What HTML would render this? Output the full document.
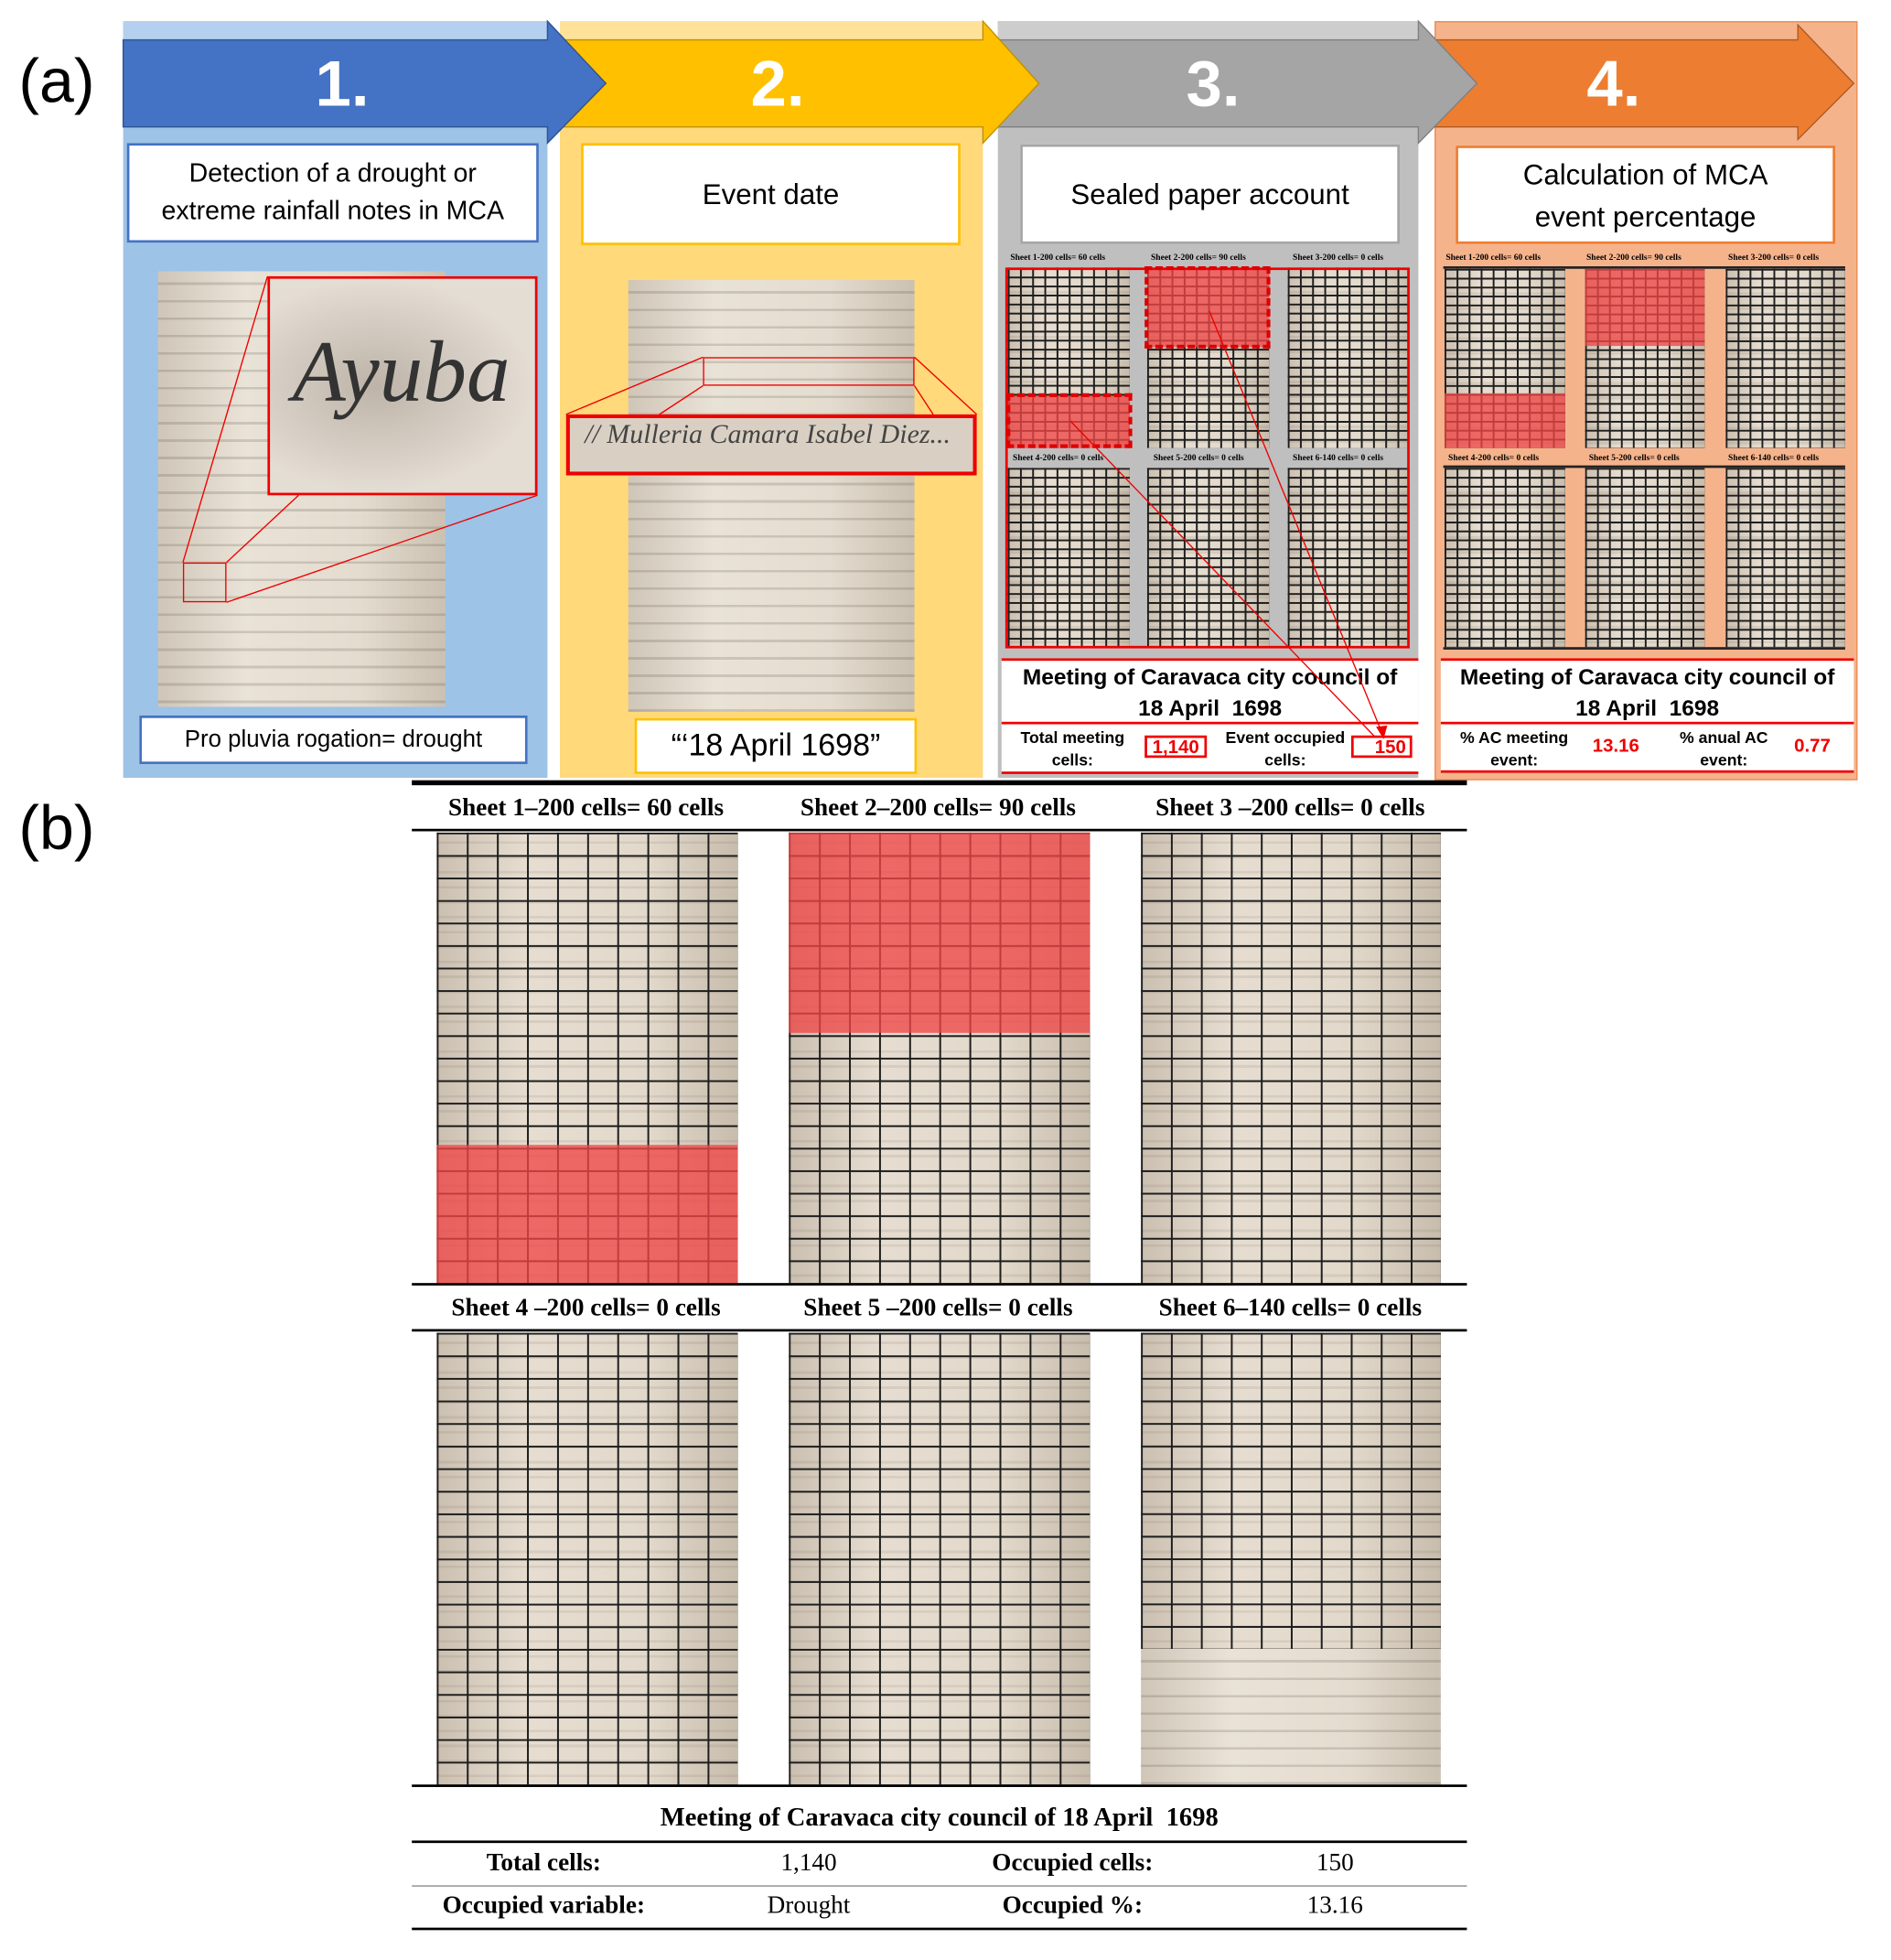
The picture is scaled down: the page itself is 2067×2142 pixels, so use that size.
<!DOCTYPE html>
<html><head><meta charset="utf-8"><style>
html,body{margin:0;padding:0;background:#fff;width:2067px;height:2142px;overflow:hidden}
#w{position:absolute;left:0;top:0;width:1520px;height:1575px;transform:scale(1.36);transform-origin:0 0;font-family:"Liberation Sans",sans-serif}
.a{position:absolute}
.box{position:absolute;background:#fff;display:flex;align-items:center;justify-content:center;text-align:center;box-sizing:border-box}
.doc{position:absolute;background:repeating-linear-gradient(to bottom,rgba(0,0,0,0) 0 9px,rgba(70,60,50,.18) 9px 11px,rgba(0,0,0,0) 11px 14px),linear-gradient(90deg,#cfc6b8,#e9e2d6 30%,#e4dccf 70%,#cbc1b2)}
.sh{position:absolute;background-image:linear-gradient(to right,#1e1e1e 1.4px,transparent 1.4px),linear-gradient(to bottom,#1e1e1e 1.4px,transparent 1.4px),repeating-linear-gradient(to bottom,rgba(0,0,0,0) 0 7px,rgba(80,70,60,.1) 7px 9px,rgba(0,0,0,0) 9px 12px),linear-gradient(90deg,#cbbfb0,#e6ddd0 30%,#e2d9cb 70%,#c8bcac);background-size:10% 5%,10% 5%,100% 100%,100% 100%}
.red{position:absolute;left:0;right:0;background:rgba(240,70,70,.78)}
.lbl{position:absolute;font-family:"Liberation Serif",serif;font-weight:bold;font-size:20px;text-align:center;white-space:nowrap}
.tl{position:absolute;font-family:"Liberation Serif",serif;font-weight:bold;font-size:7px;white-space:nowrap}
.num{position:absolute;color:#fff;font-weight:bold;font-size:52px;text-align:center}
.hl{position:absolute;left:331px;width:848px;background:#000}
.tc{position:absolute;font-family:"Liberation Serif",serif;font-size:20px;text-align:center;transform:translateX(-50%);white-space:nowrap}
</style></head><body><div id="w">

<div class="a" style="left:15px;top:36px;font-size:50px">(a)</div>
<div class="a" style="left:15px;top:636px;font-size:50px">(b)</div>

<!-- panel backgrounds -->
<div class="a" style="left:99px;top:17px;width:341px;height:608px;background:#9dc3e6"></div>
<div class="a" style="left:99px;top:17px;width:341px;height:15px;background:#b4d0ee"></div>
<div class="a" style="left:450px;top:17px;width:340px;height:608px;background:#ffd97a"></div>
<div class="a" style="left:450px;top:17px;width:340px;height:15px;background:#ffe29a"></div>
<div class="a" style="left:802px;top:17px;width:338px;height:608px;background:#bfbfbf"></div>
<div class="a" style="left:802px;top:17px;width:338px;height:15px;background:#cdcdcd"></div>
<div class="a" style="left:1153px;top:17px;width:340px;height:610px;background:#f5b38c;border:1px solid #ee8a50;box-sizing:border-box"></div>

<!-- arrows (drawn right-to-left so heads overlap next panel) -->
<svg class="a" style="left:0;top:0" width="1520" height="130">
<polygon points="1153,32 1445,32 1445,20 1490,67 1445,112 1445,102 1153,102" fill="#ed7d31" stroke="#ae5a21"/>
<polygon points="802,32 1140,32 1140,17 1187,67 1140,115 1140,102 802,102" fill="#a5a5a5" stroke="#7f7f7f"/>
<polygon points="450,32 790,32 790,17 835,67 790,115 790,102 450,102" fill="#ffc000" stroke="#c09000"/>
<polygon points="99,32 440,32 440,17 487,67 440,115 440,102 99,102" fill="#4472c4" stroke="#2f528f"/>
</svg>
<div class="num" style="left:200px;top:38px;width:150px">1.</div>
<div class="num" style="left:550px;top:38px;width:150px">2.</div>
<div class="num" style="left:900px;top:38px;width:150px">3.</div>
<div class="num" style="left:1222px;top:38px;width:150px">4.</div>

<!-- title boxes -->
<div class="box" style="left:102px;top:115px;width:331px;height:80px;border:2px solid #4472c4;font-size:21px;line-height:30px">Detection of a drought or<br>extreme rainfall notes in MCA</div>
<div class="box" style="left:467px;top:115px;width:305px;height:82px;border:2px solid #ffc000;font-size:23px">Event date</div>
<div class="box" style="left:820px;top:116px;width:305px;height:80px;border:2px solid #a5a5a5;font-size:23px">Sealed paper account</div>
<div class="box" style="left:1170px;top:117px;width:305px;height:79px;border:2px solid #ed7d31;font-size:23px;line-height:34px">Calculation of MCA<br>event percentage</div>

<!-- panel 1 doc -->
<div class="doc" style="left:127px;top:218px;width:231px;height:350px"></div>
<div class="a" style="left:215px;top:222px;width:217px;height:176px;border:2px solid #e00;box-sizing:border-box;background:radial-gradient(ellipse at 40% 50%,#bdb3a8,#e4ddd4 70%)"></div>
<div class="a" style="left:235px;top:260px;font-family:'Liberation Serif',serif;font-style:italic;font-size:70px;color:#333">Ayuba</div>
<div class="a" style="left:147px;top:452px;width:35px;height:32px;border:1px solid #e00;box-sizing:border-box"></div>
<svg class="a" style="left:0;top:0" width="500" height="600"><line x1="147" y1="452" x2="215" y2="222" stroke="#e00"/><line x1="182" y1="484" x2="432" y2="398" stroke="#e00"/><line x1="182" y1="452" x2="240" y2="398" stroke="#e00"/></svg>
<div class="box" style="left:112px;top:575px;width:312px;height:39px;border:2px solid #4472c4;font-size:19px">Pro pluvia rogation= drought</div>

<!-- panel 2 doc -->
<div class="doc" style="left:505px;top:225px;width:230px;height:347px"></div>
<div class="a" style="left:565px;top:287px;width:170px;height:23px;border:1px solid #e00;box-sizing:border-box"></div>
<div class="a" style="left:455px;top:333px;width:330px;height:49px;border:3px solid #e00;box-sizing:border-box;background:#d9d0c3"></div>
<div class="a" style="left:470px;top:336px;font-family:'Liberation Serif',serif;font-style:italic;font-size:22px;color:#444">// Mulleria Camara Isabel Diez...</div>
<svg class="a" style="left:0;top:0" width="800" height="400"><line x1="565" y1="287" x2="455" y2="333" stroke="#e00"/><line x1="735" y1="287" x2="785" y2="333" stroke="#e00"/><line x1="565" y1="310" x2="530" y2="333" stroke="#e00"/><line x1="735" y1="310" x2="750" y2="333" stroke="#e00"/></svg>
<div class="box" style="left:510px;top:577px;width:227px;height:45px;border:2px solid #ffc000;font-size:25px">“‘18 April 1698”</div>

<!-- panel 3 sheets -->
<div class="tl" style="left:812px;top:203px">Sheet 1-200 cells= 60 cells</div>
<div class="tl" style="left:925px;top:203px">Sheet 2-200 cells= 90 cells</div>
<div class="tl" style="left:1039px;top:203px">Sheet 3-200 cells= 0 cells</div>
<div class="tl" style="left:814px;top:364px">Sheet 4-200 cells= 0 cells</div>
<div class="tl" style="left:927px;top:364px">Sheet 5-200 cells= 0 cells</div>
<div class="tl" style="left:1039px;top:364px">Sheet 6-140 cells= 0 cells</div>
<div class="sh" style="left:810px;top:215px;width:98px;height:145px"><div class="red" style="top:103px;bottom:0"></div></div>
<div class="sh" style="left:922px;top:215px;width:98px;height:145px"><div class="red" style="top:0;height:64px"></div></div>
<div class="sh" style="left:1035px;top:215px;width:98px;height:145px"></div>
<div class="sh" style="left:810px;top:376px;width:98px;height:144px"></div>
<div class="sh" style="left:922px;top:376px;width:98px;height:144px"></div>
<div class="sh" style="left:1035px;top:376px;width:98px;height:144px"></div>
<div class="a" style="left:808px;top:215px;width:325px;height:306px;border:2px solid #e00;box-sizing:border-box"></div>
<div class="a" style="left:809px;top:316px;width:101px;height:44px;border:3px dashed #d00;box-sizing:border-box"></div>
<div class="a" style="left:920px;top:214px;width:101px;height:66px;border:3px dashed #d00;box-sizing:border-box"></div>
<div class="a" style="left:805px;top:530px;width:335px;height:92px;background:#fff"></div>
<div class="a" style="left:805px;top:529px;width:335px;height:2px;background:#e00"></div>
<div class="a" style="left:805px;top:580px;width:335px;height:2px;background:#e00"></div>
<div class="a" style="left:805px;top:620px;width:335px;height:2px;background:#e00"></div>
<div class="a" style="left:805px;top:532px;width:335px;text-align:center;font-weight:bold;font-size:18px;line-height:25px">Meeting of Caravaca city council of<br>18 April&nbsp; 1698</div>
<div class="a" style="left:808px;top:584px;width:108px;text-align:center;font-weight:bold;font-size:13px;line-height:18px">Total meeting<br>cells:</div>
<div class="a" style="left:920px;top:591px;width:50px;height:18px;border:2px solid #e00;box-sizing:border-box;color:#e00;font-weight:bold;font-size:15px;text-align:center;line-height:15px">1,140</div>
<div class="a" style="left:978px;top:584px;width:110px;text-align:center;font-weight:bold;font-size:13px;line-height:18px">Event occupied<br>cells:</div>
<div class="a" style="left:1086px;top:591px;width:49px;height:18px;border:2px solid #e00;box-sizing:border-box;color:#e00;font-weight:bold;font-size:15px;text-align:right;padding-right:3px;line-height:15px">150</div>
<svg class="a" style="left:0;top:0" width="1200" height="630"><line x1="860" y1="338" x2="1105" y2="592" stroke="#e00"/><line x1="972" y1="250" x2="1112" y2="592" stroke="#e00"/><polygon points="1112,594 1106,584 1115,583" fill="#e00"/></svg>

<!-- panel 4 sheets -->
<div class="tl" style="left:1162px;top:203px">Sheet 1-200 cells= 60 cells</div>
<div class="tl" style="left:1275px;top:203px">Sheet 2-200 cells= 90 cells</div>
<div class="tl" style="left:1389px;top:203px">Sheet 3-200 cells= 0 cells</div>
<div class="tl" style="left:1164px;top:364px">Sheet 4-200 cells= 0 cells</div>
<div class="tl" style="left:1277px;top:364px">Sheet 5-200 cells= 0 cells</div>
<div class="tl" style="left:1389px;top:364px">Sheet 6-140 cells= 0 cells</div>
<div class="a" style="left:1160px;top:214px;width:323px;height:2px;background:#222"></div>
<div class="a" style="left:1160px;top:374px;width:323px;height:2px;background:#222"></div>
<div class="a" style="left:1160px;top:520px;width:323px;height:2px;background:#222"></div>
<div class="sh" style="left:1161px;top:216px;width:97px;height:144px"><div class="red" style="top:100px;bottom:0"></div></div>
<div class="sh" style="left:1274px;top:216px;width:96px;height:144px"><div class="red" style="top:0;height:62px"></div></div>
<div class="sh" style="left:1387px;top:216px;width:96px;height:144px"></div>
<div class="sh" style="left:1161px;top:376px;width:97px;height:144px"></div>
<div class="sh" style="left:1274px;top:376px;width:96px;height:144px"></div>
<div class="sh" style="left:1387px;top:376px;width:96px;height:144px"></div>
<div class="a" style="left:1158px;top:530px;width:332px;height:90px;background:#fff"></div>
<div class="a" style="left:1158px;top:529px;width:332px;height:2px;background:#e00"></div>
<div class="a" style="left:1158px;top:580px;width:332px;height:2px;background:#e00"></div>
<div class="a" style="left:1158px;top:619px;width:332px;height:2px;background:#e00"></div>
<div class="a" style="left:1158px;top:532px;width:332px;text-align:center;font-weight:bold;font-size:18px;line-height:25px">Meeting of Caravaca city council of<br>18 April&nbsp; 1698</div>
<div class="a" style="left:1162px;top:584px;width:110px;text-align:center;font-weight:bold;font-size:13px;line-height:18px">% AC meeting<br>event:</div>
<div class="a" style="left:1280px;top:591px;color:#e00;font-weight:bold;font-size:15px">13.16</div>
<div class="a" style="left:1338px;top:584px;width:95px;text-align:center;font-weight:bold;font-size:13px;line-height:18px">% anual AC<br>event:</div>
<div class="a" style="left:1442px;top:591px;color:#e00;font-weight:bold;font-size:15px">0.77</div>

<!-- part b -->
<div class="hl" style="top:627px;height:4px"></div>
<div class="lbl" style="left:331px;top:638px;width:280px">Sheet 1–200 cells= 60 cells</div>
<div class="lbl" style="left:614px;top:638px;width:280px">Sheet 2–200 cells= 90 cells</div>
<div class="lbl" style="left:897px;top:638px;width:280px">Sheet 3 –200 cells= 0 cells</div>
<div class="hl" style="top:666px;height:2px"></div>
<div class="sh" style="left:351px;top:669px;width:242px;height:362px"><div class="red" style="top:251px;bottom:0"></div></div>
<div class="sh" style="left:634px;top:669px;width:242px;height:362px"><div class="red" style="top:0;height:161px"></div></div>
<div class="sh" style="left:917px;top:669px;width:241px;height:362px"></div>
<div class="hl" style="top:1031px;height:2px"></div>
<div class="lbl" style="left:331px;top:1040px;width:280px">Sheet 4 –200 cells= 0 cells</div>
<div class="lbl" style="left:614px;top:1040px;width:280px">Sheet 5 –200 cells= 0 cells</div>
<div class="lbl" style="left:897px;top:1040px;width:280px">Sheet 6–140 cells= 0 cells</div>
<div class="hl" style="top:1068px;height:2px"></div>
<div class="sh" style="left:351px;top:1071px;width:242px;height:363px"></div>
<div class="sh" style="left:634px;top:1071px;width:242px;height:363px"></div>
<div class="sh" style="left:917px;top:1071px;width:241px;height:254px;background-size:10% 7.14%,10% 7.14%,100% 100%,100% 100%"></div>
<div class="doc" style="left:917px;top:1325px;width:241px;height:109px"></div>
<div class="hl" style="top:1434px;height:2px"></div>
<div class="lbl" style="left:331px;top:1448px;width:848px;font-size:21px">Meeting of Caravaca city council of 18 April&nbsp; 1698</div>
<div class="hl" style="top:1479px;height:2px"></div>
<div class="tc" style="left:437px;top:1486px;font-weight:bold">Total cells:</div>
<div class="tc" style="left:650px;top:1486px">1,140</div>
<div class="tc" style="left:862px;top:1486px;font-weight:bold">Occupied cells:</div>
<div class="tc" style="left:1073px;top:1486px">150</div>
<div class="hl" style="top:1515px;height:1px;background:#888"></div>
<div class="tc" style="left:437px;top:1520px;font-weight:bold">Occupied variable:</div>
<div class="tc" style="left:650px;top:1520px">Drought</div>
<div class="tc" style="left:862px;top:1520px;font-weight:bold">Occupied %:</div>
<div class="tc" style="left:1073px;top:1520px">13.16</div>
<div class="hl" style="top:1549px;height:2px"></div>
</div></body></html>
